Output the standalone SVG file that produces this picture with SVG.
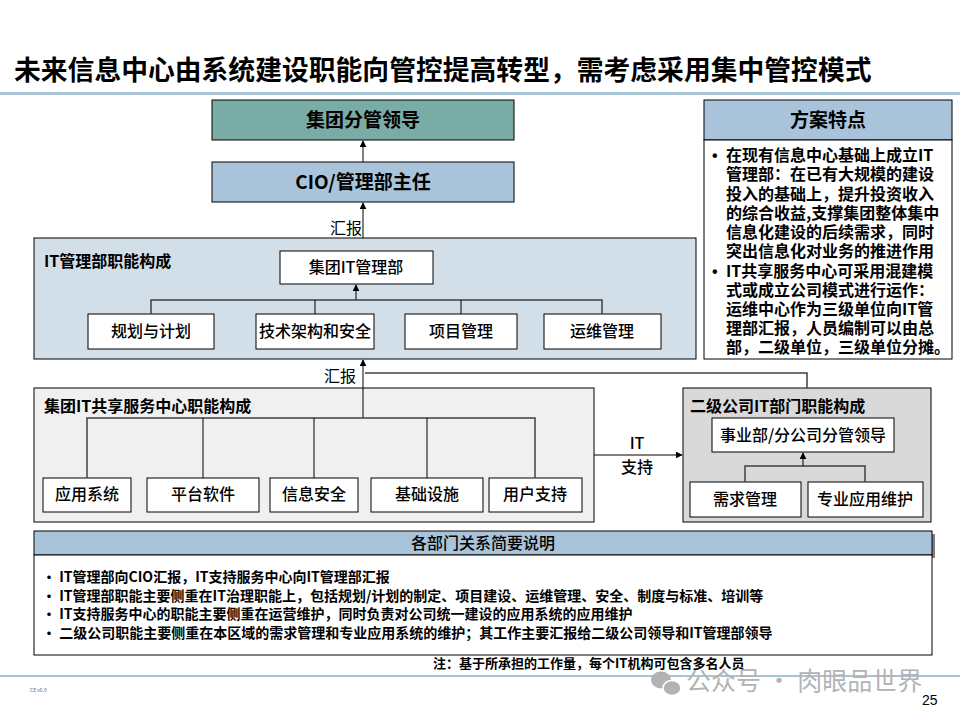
<svg xmlns="http://www.w3.org/2000/svg" width="960" height="720" viewBox="0 0 960 720">
<defs>
<marker id="ah" viewBox="0 0 10 10" refX="9" refY="5" markerWidth="7" markerHeight="7" markerUnits="userSpaceOnUse" orient="auto">
<path d="M0,0 L10,5 L0,10 z" fill="#000"/>
</marker>
<style>
text{font-family:"Noto Sans CJK SC","Liberation Sans",sans-serif;fill:#000;}
.b{font-weight:bold;}
.box{fill:#fff;stroke:#000;stroke-width:1;}
.lbl{font-size:16px;text-anchor:middle;font-weight:500;}
.hdr{font-size:19px;font-weight:bold;text-anchor:middle;}
.pl{font-size:16px;font-weight:bold;}
.ln{stroke:#000;stroke-width:1;fill:none;}
.tr{stroke:#404040;stroke-width:1.5;fill:none;}
.li{font-size:16px;font-weight:bold;}
.ds{font-size:14px;font-weight:bold;}
</style>
</defs>
<rect width="960" height="720" fill="#fff"/>
<g id="title">
<text x="14" y="80" class="b" font-size="26.8">未来信息中心由系统建设职能向管控提高转型，需考虑采用集中管控模式</text>
<rect x="0" y="92" width="960" height="3" fill="#a7c3d6"/>
</g>
<g id="leader">
<rect x="212" y="100" width="302" height="40" fill="#79aca5" stroke="#000"/>
<text x="363" y="127" class="hdr">集团分管领导</text>
</g>
<g id="cio">
<rect x="212" y="162" width="302" height="40" fill="#a9c4da" stroke="#000"/>
<text x="363" y="189" class="hdr">CIO/管理部主任</text>
</g>
<g id="it-mgmt-panel">
<rect x="34" y="238" width="662" height="121" fill="#d2dfe9" stroke="#000"/>
<text x="44" y="267" class="pl">IT管理部职能构成</text>
</g>
<g id="it-mgmt-dept">
<rect class="box" x="280" y="251" width="153" height="33"/>
<text x="356" y="273" class="lbl">集团IT管理部</text>
</g>
<g id="planning"><rect class="box" x="88" y="314" width="126" height="35"/><text x="151" y="337" class="lbl">规划与计划</text></g>
<g id="arch"><rect class="box" x="256" y="314" width="118" height="35"/><text x="315" y="337" class="lbl">技术架构和安全</text></g>
<g id="project"><rect class="box" x="405" y="314" width="112" height="35"/><text x="461" y="337" class="lbl">项目管理</text></g>
<g id="ops"><rect class="box" x="544" y="314" width="117" height="35"/><text x="602" y="337" class="lbl">运维管理</text></g>
<g id="shared-panel">
<rect x="34" y="388" width="560" height="134" fill="#f0f0f0" stroke="#000"/>
<text x="44" y="412" class="pl">集团IT共享服务中心职能构成</text>
</g>
<g id="app"><rect class="box" x="43" y="478" width="88" height="34"/><text x="87" y="500" class="lbl">应用系统</text></g>
<g id="platform"><rect class="box" x="147" y="478" width="112" height="34"/><text x="203" y="500" class="lbl">平台软件</text></g>
<g id="security"><rect class="box" x="270" y="478" width="88" height="34"/><text x="314" y="500" class="lbl">信息安全</text></g>
<g id="infra"><rect class="box" x="371" y="478" width="112" height="34"/><text x="427" y="500" class="lbl">基础设施</text></g>
<g id="support"><rect class="box" x="489" y="478" width="93" height="34"/><text x="535" y="500" class="lbl">用户支持</text></g>
<g id="sub-panel">
<rect x="683" y="388" width="248" height="134" fill="#d9d9d9" stroke="#000"/>
<text x="690" y="412" class="pl">二级公司IT部门职能构成</text>
</g>
<g id="sub-leader"><rect class="box" x="712" y="418" width="182" height="34"/><text x="803" y="441" class="lbl" font-size="17">事业部/分公司分管领导</text></g>
<g id="demand"><rect class="box" x="690" y="482" width="111" height="35"/><text x="745" y="505" class="lbl">需求管理</text></g>
<g id="app-maint"><rect class="box" x="808" y="482" width="115" height="35"/><text x="865" y="505" class="lbl">专业应用维护</text></g>
<g id="features">
<rect x="704" y="100" width="248" height="40" fill="#a9c4da" stroke="#000"/>
<text x="828" y="127" class="hdr">方案特点</text>
<rect x="704" y="140" width="248" height="219" fill="#fff" stroke="#000"/>
<text class="li"><tspan x="712" y="161" font-family="Liberation Sans">•</tspan><tspan x="726" y="161">在现有信息中心基础上成立IT</tspan><tspan x="726" y="180">管理部：在已有大规模的建设</tspan><tspan x="726" y="200">投入的基础上，提升投资收入</tspan><tspan x="726" y="219">的综合收益,支撑集团整体集中</tspan><tspan x="726" y="238">信息化建设的后续需求，同时</tspan><tspan x="726" y="257">突出信息化对业务的推进作用</tspan><tspan x="712" y="277" font-family="Liberation Sans">•</tspan><tspan x="726" y="277">IT共享服务中心可采用混建模</tspan><tspan x="726" y="296">式或成立公司模式进行运作：</tspan><tspan x="726" y="315">运维中心作为三级单位向IT管</tspan><tspan x="726" y="334">理部汇报，人员编制可以由总</tspan><tspan x="726" y="353">部，二级单位，三级单位分摊。</tspan></text>
</g>
<g id="connectors">
<line class="ln" x1="363" y1="162" x2="363" y2="141" marker-end="url(#ah)"/>
<line class="ln" x1="363" y1="238" x2="363" y2="203" marker-end="url(#ah)"/>
<text x="330" y="234" font-size="16px">汇报</text>
<polyline class="tr" points="151,314 151,300 602,300 602,314"/>
<line class="ln" x1="315" y1="300" x2="315" y2="314"/>
<line class="ln" x1="461" y1="300" x2="461" y2="314"/>
<line class="ln" x1="356" y1="300" x2="356" y2="285" marker-end="url(#ah)" stroke-width="1.5"/>
<line class="ln" x1="363" y1="418" x2="363" y2="360" marker-end="url(#ah)"/>
<text x="324" y="382" font-size="16px">汇报</text>
<polyline class="tr" points="365,373 807,373 807,388" stroke-width="1"/>
<polyline class="tr" points="87,478 87,418 535,418 535,478"/>
<line class="ln" x1="203" y1="418" x2="203" y2="478"/>
<line class="ln" x1="314" y1="418" x2="314" y2="478"/>
<line class="ln" x1="427" y1="418" x2="427" y2="478"/>
<line class="ln" x1="594" y1="455" x2="682" y2="455" marker-end="url(#ah)"/>
<text x="637" y="449" class="lbl b">IT</text>
<text x="637" y="473" class="lbl b">支持</text>
<polyline class="tr" points="745,482 745,466 865,466 865,482"/>
<line class="ln" x1="803" y1="466" x2="803" y2="453" marker-end="url(#ah)" stroke-width="1.5"/>
</g>
<g id="relations">
<rect x="37" y="534" width="898" height="24" fill="#808080"/>
<rect x="34" y="531" width="898" height="24" fill="#a9c4da" stroke="#000"/>
<text x="483" y="549" class="lbl b">各部门关系简要说明</text>
<rect x="34" y="555" width="898" height="100" fill="#fff" stroke="#000"/>
<text x="42" y="582" class="ds">• IT管理部向CIO汇报，IT支持服务中心向IT管理部汇报</text>
<text x="42" y="601" class="ds">• IT管理部职能主要侧重在IT治理职能上，包括规划/计划的制定、项目建设、运维管理、安全、制度与标准、培训等</text>
<text x="42" y="619" class="ds">• IT支持服务中心的职能主要侧重在运营维护，同时负责对公司统一建设的应用系统的应用维护</text>
<text x="42" y="638" class="ds">• 二级公司职能主要侧重在本区域的需求管理和专业应用系统的维护；其工作主要汇报给二级公司领导和IT管理部领导</text>
<text x="433" y="668" font-size="13px" class="b">注：基于所承担的工作量，每个IT机构可包含多名人员</text>
</g>
<g id="footer">
<rect x="0" y="675" width="960" height="2" fill="#a7c3d6"/>
<text x="30" y="692" font-size="5px" style="fill:#666">CE v6.0</text>
<ellipse cx="661" cy="680" rx="10" ry="8.5" fill="#b3b3b3"/>
<ellipse cx="672" cy="688" rx="9" ry="7.5" fill="#b3b3b3" stroke="#fff" stroke-width="1.5"/>
<text x="686" y="690" font-size="25px" style="fill:#b3b3b3">公众号 · 肉眼品世界</text>
<text x="922" y="705" font-size="14px" style="font-family:'Liberation Sans',sans-serif">25</text>
</g>
</svg>
